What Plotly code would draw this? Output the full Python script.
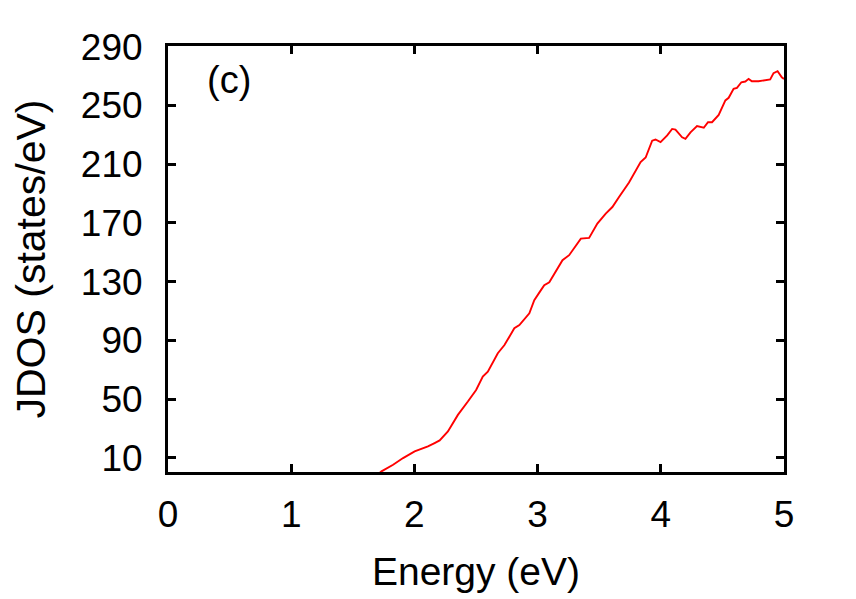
import plotly.graph_objects as go

energy = [1.70, 1.733, 1.827, 1.908, 2.002, 2.110, 2.164, 2.205, 2.272, 2.353, 2.434,
          2.501, 2.555, 2.596, 2.677, 2.731, 2.811, 2.852, 2.933, 2.973, 3.027, 3.054,
          3.095, 3.202, 3.256, 3.351, 3.418, 3.485, 3.553, 3.607, 3.661, 3.742, 3.836,
          3.877, 3.930, 3.957, 3.998, 4.052, 4.092, 4.119, 4.173, 4.200, 4.241, 4.294,
          4.349, 4.383, 4.416, 4.470, 4.524, 4.551, 4.591, 4.618, 4.654, 4.686, 4.713,
          4.739, 4.793, 4.848, 4.888, 4.915, 4.948, 4.982, 5.0]
jdos = [-1.5, 0.7, 5.2, 9.8, 14.3, 17.7, 20.0, 21.8, 27.9, 39.2, 48.3,
        56.2, 65.3, 68.7, 81.2, 86.8, 98.2, 100.4, 108.4, 117.4, 124.2, 127.6,
        129.5, 144.6, 148.0, 159.3, 159.8, 169.5, 176.3, 180.8, 187.6, 197.5, 211.4,
        214.5, 226.0, 226.8, 225.0, 229.6, 234.0, 233.5, 228.3, 227.2, 231.7, 236.0,
        234.8, 238.6, 238.6, 243.5, 253.4, 255.2, 261.3, 262.0, 265.8, 266.3, 268.1,
        266.5, 266.5, 267.4, 267.7, 272.0, 273.3, 269.2, 268.0]

x_ticks = [0, 1, 2, 3, 4, 5]
y_ticks = [10, 50, 90, 130, 170, 210, 250, 290]
panel_label = "(c)"

font_family = "Liberation Sans, Arial, Helvetica, sans-serif"

fig = go.Figure()
fig.add_trace(go.Scatter(x=energy, y=jdos, mode="lines",
                         line=dict(color="#ff0000", width=1.9),
                         showlegend=False))

axis_common = dict(
    showline=True, linecolor="black", linewidth=3, mirror="allticks",
    ticks="inside", ticklen=8, tickwidth=3, tickcolor="black",
    showgrid=False, zeroline=False,
    tickfont=dict(family=font_family, size=37, color="black"),
)

fig.update_xaxes(range=[0, 5], tickvals=x_ticks, ticklabelstandoff=8,
                 title=dict(text="Energy (eV)", standoff=24,
                            font=dict(family=font_family, size=39, color="black")),
                 **axis_common)
fig.update_yaxes(range=[0.3, 290.5], tickvals=y_ticks, ticklabelstandoff=15,
                 title=dict(text="JDOS (states/eV)", standoff=23,
                            font=dict(family=font_family, size=41, color="black")),
                 **axis_common)

fig.add_annotation(x=0.06, y=0.92, xref="paper", yref="paper", text=panel_label,
                   showarrow=False, xanchor="left", yanchor="middle",
                   font=dict(family=font_family, size=38, color="black"))

fig.update_layout(width=856, height=599,
                  margin=dict(l=168, r=72, t=46, b=127, autoexpand=False),
                  plot_bgcolor="white", paper_bgcolor="white")

fig.write_html("out.html", config={"displayModeBar": False},
               post_script="document.body.style.margin='0';")
